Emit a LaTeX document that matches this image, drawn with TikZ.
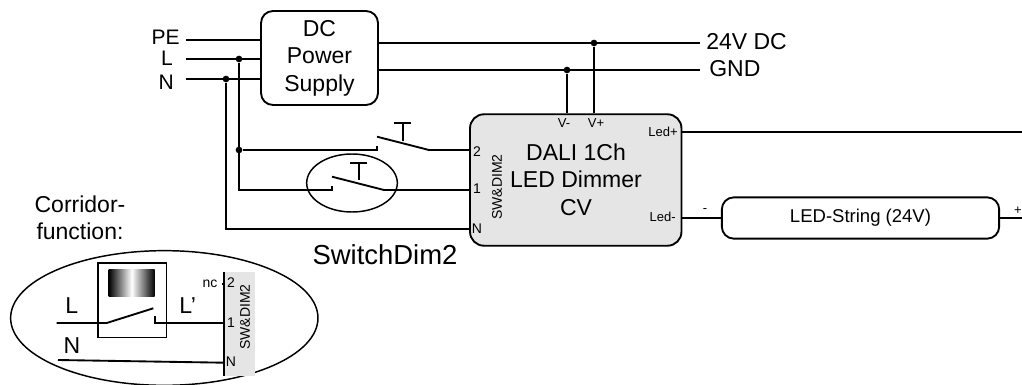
\documentclass[tikz,border=0pt]{standalone}
\usepackage{fontspec}
\setmainfont{Liberation Sans}
\usetikzlibrary{shapes.geometric}
\tikzset{
  wire/.style={line width=1.4pt},
  thinwire/.style={line width=1.1pt},
  box/.style={draw,line width=1.4pt,rounded corners=9pt,inner sep=0pt},
  dot/.style={circle,fill=black,inner sep=0pt,minimum size=5pt},
  bigtext/.style={inner sep=0pt,font=\fontsize{17.25}{20.6}\selectfont,align=center},
  smalltext/.style={inner sep=0pt,font=\fontsize{10.5}{12}\selectfont},
  tinytext/.style={inner sep=0pt,font=\fontsize{9.75}{12}\selectfont},
}
\begin{document}
\begin{tikzpicture}[x=0.75pt,y=-0.75pt]
    \useasboundingbox (0,0) rectangle (1022,385);
    % power supply
    \path (319.5,58) node [box,minimum width=87.75pt,minimum height=70.5pt,bigtext](psu){DC\\Power\\Supply};
    \path (180,37) node [bigtext,font=\fontsize{15.75}{18}\selectfont,anchor=east](PE){PE};
    \path (173,58) node [bigtext,font=\fontsize{15.75}{18}\selectfont,anchor=east](L){L};
    \path (174,82) node [bigtext,font=\fontsize{15.75}{18}\selectfont,anchor=east](N){N};
    \path (186,40) coordinate(PEa) (186,59) coordinate(La) (186,79) coordinate(Na);
    \draw[wire] (PEa) -- (PEa -| psu.west);
    \draw[wire] (La) -- (La -| psu.west);
    \draw[wire] (Na) -- (Na -| psu.west);
    \path (706,42) node [bigtext,anchor=west](dc){24V DC};
    \path (709,69) node [bigtext,anchor=west](gnd){GND};
    \path (700,43) coordinate(dcend) (700,70) coordinate(gndend);
    \draw[wire] (dcend -| psu.east) -- (dcend);
    \draw[wire] (gndend -| psu.east) -- (gndend);
    % dimmer
    \path (575.75,180) node [box,fill=black!10,rounded corners=10.5pt,minimum width=158.6pt,minimum height=98.6pt](dim){};
    \path (576,179.5) node [bigtext](dimtext){DALI 1Ch\\LED Dimmer\\CV};
    \path (564,123) node [tinytext](vm){V-} (596,123) node [tinytext](vp){V+};
    \path (678,132) node [tinytext,anchor=east](ledp){Led+} (676,217) node [tinytext,anchor=east](ledm){Led-};
    \path (477,152) node [smalltext](two){2} (477,189) node [smalltext](one){1} (477,229) node [smalltext](en){N};
    \path (497,187) node [smalltext,rotate=90](swdim){SW\&DIM2};
    \path (594,43) node [dot](dotp){} (567,70) node [dot](dotm){};
    \draw[wire] (dotp) -- (dotp |- dim.north);
    \draw[wire] (dotm) -- (dotm |- dim.north);
    % led string
    \path (860.5,218) node [box,minimum width=208pt,minimum height=31pt,inner sep=0pt,font=\fontsize{13.9}{16}\selectfont](led){LED-String (24V)};
    \path (1022,132) coordinate(ledpend) (1022,218) coordinate(ledmend);
    \draw[wire] (ledpend -| dim.east) -- (ledpend);
    \draw[wire] (dim.east |- led.west) -- (led.west);
    \draw[wire] (led.east) -- (ledmend);
    \path (705,211) node [tinytext](minus){-} (1018,211) node [tinytext](plus){+};
    % switches
    \path (239,59) node [dot](dotl){} (226,79) node [dot](dotn){} (239,150) node [dot](dotsw){};
    \path (239,190) coordinate(lbend) (226,229) coordinate(nbend);
    \path (377,150) coordinate(swa) (377,136.7) coordinate(swb) (429,150) coordinate(swc);
    \path (332,190) coordinate(swd) (332,176.7) coordinate(swe) (384,190) coordinate(swf);
    \draw[wire] (dotl) -- (lbend) -- (swd) -- ++(0,-4);
    \draw[wire] (dotn) -- (nbend) -- (nbend -| dim.west);
    \draw[wire] (dotsw) -- (swa) -- ++(0,-4);
    \draw[wire] (swb) -- (swc) -- (swc -| dim.west);
    \draw[wire] (swe) -- (swf) -- (swf -| dim.west);
    \draw[thinwire] (394,123) -- (411,123) (403,123) -- (403,141);
    \draw[thinwire] (350,163) -- (367,163) (359,163) -- (359,179.5);
    \path (352,183) node [draw,thinwire,ellipse,minimum width=68pt,minimum height=43.5pt,inner sep=0pt](ring){};
    \path (385,255) node [inner sep=0pt,font=\fontsize{20.6}{24}\selectfont](name){SwitchDim2};
    % corridor function
    \path (80,218) node [bigtext](corr){Corridor-\\function:};
    \path (164.3,318) node [draw,thinwire,ellipse,minimum width=230.5pt,minimum height=101pt,inner sep=0pt](oval){};
    \fill[black!10] (224,272.3) rectangle (255,375.7);
    \path (224,272.3) coordinate(ca) (224,375.7) coordinate(cb);
    \draw[wire] (ca) -- (cb);
    \path (97.3,262.3) node [draw,thinwire,anchor=north west,minimum width=51.3pt,minimum height=55.8pt,inner sep=0pt](sensor){};
    \path (131.7,283) node [minimum width=34.5pt,minimum height=20.6pt,inner sep=0pt,left color=black,right color=black,middle color=white](lamp){};
    \path (56.7,323) coordinate(cla) (106.7,323) coordinate(clb) (153.3,308.3) coordinate(clc) (155,316) coordinate(cld) (155,323) coordinate(cle);
    \draw[wire] (cla) -- (clb) -- (clc);
    \draw[wire] (cld) -- (cle) -- (cle -| ca);
    \path (58,360) coordinate(cna) (224,362.7) coordinate(cnb);
    \draw[wire] (cna) -- (cnb);
    \path (71.7,306) node [bigtext](cl){L} (187.7,306) node [bigtext](clp){L'} (72,346) node [bigtext](cn){N};
    \path (210,284) node [smalltext](nc){nc} (231,283) node [smalltext](ctwo){2} (231,323) node [smalltext](cone){1} (231,362) node [smalltext](cen){N};
    \path (245,317) node [smalltext,rotate=90](cswdim){SW\&DIM2};
    \path (221.5,284) coordinate(nctick);
    \draw[thinwire] (nctick) -- (nctick -| ca);

  \end{tikzpicture}
\end{document}
